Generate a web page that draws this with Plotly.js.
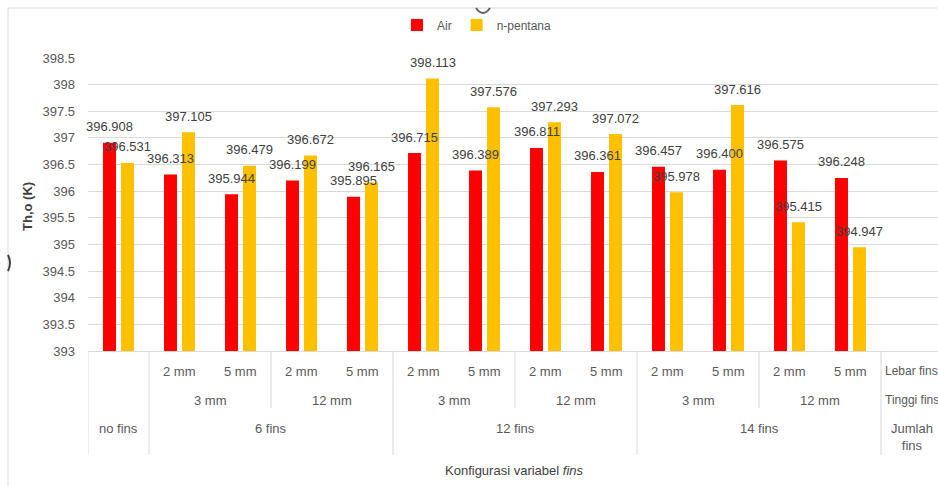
<!DOCTYPE html>
<html>
<head>
<meta charset="utf-8">
<script src="https://cdn.plot.ly/plotly-3.0.1.min.js"></script>
<style>html,body{margin:0;padding:0;background:#fff;overflow:hidden;}#chart{width:938px;height:486px;}</style>
</head>
<body>
<div id="chart"></div>
<script>
// ---- data ----
const slots = [0,1,2,3,4,5,6,7,8,9,10,11,12];
const airValues = [396.908, 396.313, 395.944, 396.199, 395.895, 396.715, 396.389, 396.811, 396.361, 396.457, 396.400, 396.575, 396.248];
const pentanaValues = [396.531, 397.105, 396.479, 396.672, 396.165, 398.113, 397.576, 397.293, 397.072, 395.978, 397.616, 395.415, 394.947];
const lebarLabels = ["", "2 mm","5 mm","2 mm","5 mm","2 mm","5 mm","2 mm","5 mm","2 mm","5 mm","2 mm","5 mm","Lebar fins"];
const tinggiGroups = [["3 mm",1,2],["12 mm",3,4],["3 mm",5,6],["12 mm",7,8],["3 mm",9,10],["12 mm",11,12],["Tinggi fins",13,13]];
const jumlahGroups = [["no fins",0,0],["6 fins",1,4],["12 fins",5,8],["14 fins",9,12],["Jumlah<br>fins",13,13]];
const fullDividers = [-0.5, 0.5, 4.5, 8.5, 12.5];
const shortDividers = [2.5, 6.5, 10.5];

// ---- layout geometry helpers ----
const L = 88, R = 938, T = 58, B = 351, SLOT = 61;
const px = x => (x - L) / (R - L);
const py = y => (B - y) / (B - T);
const FONT = "Liberation Sans, Arial, sans-serif";
const GRID = "#d9d9d9";

const traces = [
  {type: "bar", name: "Air", x: slots, y: airValues, marker: {color: "#FF0000"}, hoverinfo: "y"},
  {type: "bar", name: "n-pentana", x: slots, y: pentanaValues, marker: {color: "#FFC000"}, hoverinfo: "y"}
];

const annotations = [];
airValues.forEach((v, i) => annotations.push({x: slots[i], y: v, xref: "x", yref: "y", text: v.toFixed(3), showarrow: false, xshift: -9, yshift: 16, yanchor: "middle", font: {family: FONT, size: 13, color: "#404040"}}));
pentanaValues.forEach((v, i) => annotations.push({x: slots[i], y: v, xref: "x", yref: "y", text: v.toFixed(3), showarrow: false, xshift: 9, yshift: 16, yanchor: "middle", font: {family: FONT, size: 13, color: "#404040"}}));

const catFont = {family: FONT, size: 13, color: "#595959"};
const edgeFont = {family: FONT, size: 12, color: "#595959"};
lebarLabels.forEach((t, i) => { if (t) annotations.push({x: i, y: py(371), xref: "x", yref: "paper", text: t, showarrow: false, yanchor: "middle", font: i === 13 ? edgeFont : catFont}); });
tinggiGroups.forEach(g => annotations.push({x: (g[1] + g[2]) / 2, y: py(400), xref: "x", yref: "paper", text: g[0], showarrow: false, yanchor: "middle", font: g[1] === 13 ? edgeFont : catFont}));
jumlahGroups.forEach(g => annotations.push({x: (g[1] + g[2]) / 2, y: g[0].indexOf("<br>") >= 0 ? py(437) : py(428), xref: "x", yref: "paper", text: g[0], showarrow: false, yanchor: "middle", font: catFont}));

annotations.push({x: px(514), y: py(470), xref: "paper", yref: "paper", text: "Konfigurasi variabel <i>fins</i>", showarrow: false, yanchor: "middle", font: {family: FONT, size: 13, color: "#404040"}});
annotations.push({x: px(27), y: py(207), xref: "paper", yref: "paper", text: "<b>Th,o (K)</b>", textangle: -90, showarrow: false, xanchor: "center", yanchor: "middle", font: {family: FONT, size: 13, color: "#404040"}});

const shapes = [];
fullDividers.forEach(d => shapes.push({type: "line", xref: "x", yref: "paper", x0: d, x1: d, y0: 0, y1: py(455), line: {color: GRID, width: 1}}));
shortDividers.forEach(d => shapes.push({type: "line", xref: "x", yref: "paper", x0: d, x1: d, y0: 0, y1: py(408), line: {color: GRID, width: 1}}));
// chart-area frame
shapes.push({type: "rect", xref: "paper", yref: "paper", x0: px(8), x1: px(960), y0: py(8), y1: py(520), line: {color: GRID, width: 1}, layer: "below"});
// small handle artefacts
shapes.push({type: "path", xref: "paper", yref: "paper", path: `M${px(476)},${py(8)} Q${px(483)},${py(18)} ${px(490)},${py(8)}`, line: {color: "#606060", width: 2}});
shapes.push({type: "path", xref: "paper", yref: "paper", path: `M${px(8)},${py(255)} Q${px(12)},${py(263)} ${px(8)},${py(271)}`, line: {color: "#404040", width: 2}});

const layout = {
  width: 938, height: 486,
  margin: {l: L, r: 0, t: T, b: 486 - B, pad: 0},
  paper_bgcolor: "#fff", plot_bgcolor: "#fff",
  barmode: "group", bargap: 0.41, bargroupgap: 0.28,
  showlegend: true,
  legend: {orientation: "h", x: px(477), xanchor: "center", y: py(25), yanchor: "middle", font: {family: FONT, size: 12, color: "#595959"}, itemwidth: 30, bgcolor: "rgba(0,0,0,0)"},
  xaxis: {range: [-0.5, -0.5 + (R - L) / SLOT], showticklabels: false, showgrid: false, zeroline: false, showline: true, linecolor: GRID, linewidth: 1, ticks: "", fixedrange: true},
  yaxis: {range: [393, 398.5], dtick: 0.5, showgrid: true, gridcolor: GRID, gridwidth: 1, zeroline: false, showline: false, ticks: "", ticklabelstandoff: 12, tickfont: {family: FONT, size: 13, color: "#595959"}, fixedrange: true},
  annotations: annotations,
  shapes: shapes,
  font: {family: FONT}
};

Plotly.newPlot("chart", traces, layout, {displayModeBar: false, staticPlot: true});
</script>
</body>
</html>
